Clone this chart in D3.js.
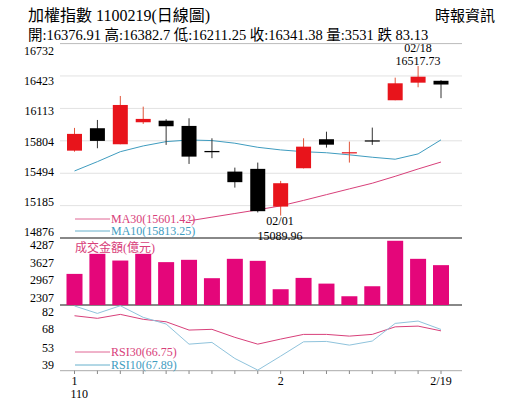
<!DOCTYPE html><html><head><meta charset="utf-8"><script src="https://cdn.jsdelivr.net/npm/d3@7/dist/d3.min.js"></script>
<style>body{margin:0;background:#fff}svg{font-family:"Liberation Serif","Noto Sans CJK TC",serif}</style></head><body><svg id="c" width="515" height="413"></svg><script>
const dates=["1/20","1/21","1/22","1/25","1/26","1/27","1/28","1/29","1/30","2/1","2/2","2/3","2/4","2/5","2/17","2/18","2/19"];
const open =[15710,15924,15771,15981,15996,15946,15707,15510,15536,15176,15542,15819,15688,15808,16191,16359,16376.91];
const close=[15870,15803,16146,16013,15943,15653,15695,15409,15132,15399,15748,15767,15695,15806,16353,16416,16341.38];
const high =[15927,16003,16232,16130,16010,16019,15828,15548,15596,15421,15828,15891,15796,15930,16407,16517.73,16382.7];
const low  =[15700,15733,15771,15965,15765,15583,15638,15357,15120,15089.96,15540,15739,15596,15765,16191,16315,16211.25];
const ma10=[15516,15605,15700,15755,15796,15812,15806,15781,15742,15717,15700,15690,15670,15647,15628,15679,15813.25];
const ma30=[null,null,null,null,null,15040,15075,15110,15145,15183,15235,15290,15345,15399,15465,15535,15601.42];
const vol=[3206,3952,3702,3952,3643,3729,3046,3766,3691,2636,3057,2845,2375,2747,4437,3766,3531];
const rsi10=[86.9,80.9,87.1,77.7,72.3,56.0,57.4,44.4,35,46.3,57.9,58.2,55.2,58.5,72.8,74.7,67.89];
const rsi30=[79,76.9,80.1,76.1,74.1,67.4,68,61.5,56,60.1,63.9,63.9,62.5,63.9,70,70.6,66.75];
const priceTicks=[16732,16423,16113,15804,15494,15185,14876];
const volTicks=[4287,3627,2967,2307];
const rsiTicks=[82,68,53,39];
const svg=d3.select("#c");
const L=60,R=462;
const x=d3.scaleLinear().domain([0,16]).range([74.5,441]);
const y=d3.scaleLinear().domain([14876,16732]).range([238,43.6]);
const yl=d3.scaleLinear().domain([14876,16732]).range([232,51]);
const yv=d3.scaleLinear().domain([2050,4540]).range([305,238]);
const yr=d3.scaleLinear().domain([34.5,87.7]).range([370.7,305]);
const RED="#e8141b",MA30C="#d8407a",MA10C="#3f9cbf",VOLC="#e4067a";
svg.append("text").attr("x",28).attr("y",21).attr("font-size",16).text("加權指數 1100219(日線圖)");
svg.append("text").attr("x",495).attr("y",21).attr("text-anchor","end").attr("font-size",15).text("時報資訊");
svg.append("text").attr("x",28).attr("y",40).attr("font-size",14.5).text("開:16376.91 高:16382.7 低:16211.25 收:16341.38 量:3531 跌 83.13");
svg.append("g").selectAll("line").data(priceTicks.slice(0,6)).join("line").attr("x1",L).attr("x2",R).attr("y1",d=>y(d)).attr("y2",d=>y(d)).attr("stroke",d=>d===16732?"#bbb":"#e2e2e2");
[238,305].forEach(v=>svg.append("line").attr("x1",L).attr("x2",R).attr("y1",v).attr("y2",v).attr("stroke","#888").attr("stroke-width",2));
svg.append("line").attr("x1",L).attr("x2",R).attr("y1",370.7).attr("y2",370.7).attr("stroke","#aaa");
svg.append("g").selectAll("line").data(d3.range(17)).join("line").attr("x1",d=>x(d)).attr("x2",d=>x(d)).attr("y1",370.7).attr("y2",374).attr("stroke","#888");
const lab=(ticks,sc)=>svg.append("g").selectAll("text").data(ticks).join("text").attr("x",54).attr("y",d=>sc(d)+4).attr("text-anchor","end").attr("font-size",12).text(d=>d);
lab(priceTicks,yl);lab(volTicks,d=>d3.scaleLinear().domain([2307,4287]).range([298,245])(d));lab(rsiTicks,yr);
svg.append("clipPath").attr("id","pc").append("rect").attr("x",L).attr("y",43).attr("width",R-L).attr("height",195);
const ln=(sc)=>d3.line().defined(d=>d!=null).x((d,i)=>x(i)).y(d=>sc(d));
svg.append("path").attr("clip-path","url(#pc)").attr("d",ln(y)(ma30)).attr("fill","none").attr("stroke",MA30C);
svg.append("path").attr("d",ln(y)(ma10)).attr("fill","none").attr("stroke",MA10C);
const bw=15;
const cg=svg.append("g");
d3.range(17).forEach(i=>{
  const up=close[i]>=open[i];const col=up?RED:"#000";
  cg.append("line").attr("x1",x(i)).attr("x2",x(i)).attr("y1",y(high[i])).attr("y2",y(low[i])).attr("stroke",up?"#e0553a":"#333");
  const t=y(Math.max(open[i],close[i])),b=y(Math.min(open[i],close[i]));
  cg.append("rect").attr("x",x(i)-bw/2).attr("y",t).attr("width",bw).attr("height",Math.max(b-t,1.2)).attr("fill",col);
});
svg.append("text").attr("x",418).attr("y",52).attr("text-anchor","middle").attr("font-size",12).text("02/18");
svg.append("text").attr("x",418).attr("y",65).attr("text-anchor","middle").attr("font-size",12).text("16517.73");
svg.append("text").attr("x",280).attr("y",225).attr("text-anchor","middle").attr("font-size",12).text("02/01");
svg.append("text").attr("x",280).attr("y",240).attr("text-anchor","middle").attr("font-size",12).text("15089.96");
const leg=(yy,col,t)=>{svg.append("line").attr("x1",75).attr("x2",110).attr("y1",yy).attr("y2",yy).attr("stroke",col).attr("stroke-width",0.8);
 svg.append("text").attr("x",111).attr("y",yy+4).attr("font-size",12).attr("fill",col).text(t);};
leg(219,MA30C,"MA30(15601.42)");leg(231,MA10C,"MA10(15813.25)");
svg.append("g").selectAll("rect").data(vol).join("rect").attr("x",(d,i)=>x(i)-8).attr("width",16).attr("y",d=>yv(d)).attr("height",d=>305-yv(d)).attr("fill",VOLC);
svg.append("text").attr("x",75).attr("y",252).attr("font-size",12).attr("fill",MA30C).text("成交金額(億元)");
svg.append("path").attr("d",ln(yr)(rsi30)).attr("fill","none").attr("stroke",MA30C);
svg.append("path").attr("d",ln(yr)(rsi10)).attr("fill","none").attr("stroke","#8fc3dc");
leg(352,MA30C,"RSI30(66.75)");leg(365,MA10C,"RSI10(67.89)");
[[0,"1"],[9,"2"],[16,"2/19"]].forEach(([i,t])=>svg.append("text").attr("x",x(i)).attr("y",385).attr("text-anchor","middle").attr("font-size",12).text(t));
svg.append("text").attr("x",x(0)-4).attr("y",398).attr("font-size",12).text("110");
</script></body></html>
